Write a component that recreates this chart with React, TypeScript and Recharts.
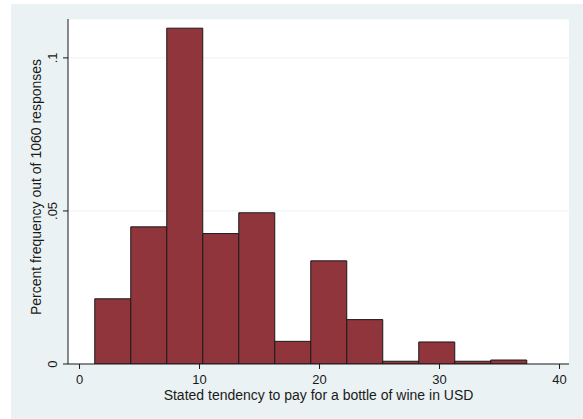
import React from 'react';
import { BarChart, Bar, XAxis, YAxis, CartesianGrid, Label, Rectangle } from 'recharts';

// histogram bins (bin width 3 USD), centre of each bin
const BIN_CENTERS = [2.77, 5.77, 8.77, 11.77, 14.77, 17.77, 20.77, 23.77, 26.77, 29.77, 32.77, 35.77];
// share of the 1060 responses in each bin
const SHARES = [0.0213, 0.0448, 0.1097, 0.0426, 0.0494, 0.0074, 0.0337, 0.0145, 0.0009, 0.0072, 0.0009, 0.0013];

const X_TICKS = [0, 10, 20, 30, 40];
const Y_TICKS = [0, 0.05, 0.1];
const Y_TICK_LABELS = ['0', '.05', '.1'];

const BIN_WIDTH = 3;
const X_MIN = -0.96;
const X_MAX = 40.79;
const Y_MAX = 0.1127;

const W = 583;
const H = 419;
const MARGIN = { top: 19, right: 14, left: 0, bottom: 0 };
const Y_AXIS_W = 68;
const X_AXIS_H = 55;

const FONT = '"Liberation Sans", Arial, Helvetica, sans-serif';
const BG = '#EAF2F3';
const FILL = '#90353B';
const INK = '#1a1a1a';

const data = BIN_CENTERS.map((c, i) => ({ center: c, share: SHARES[i] }));

const plotW = W - MARGIN.left - MARGIN.right - Y_AXIS_W;
const barPx = (BIN_WIDTH / (X_MAX - X_MIN)) * plotW;

// full-width histogram bar, centred on the bin centre the library computed
const BinShape = (props: any) => {
  const { x, y, width, height } = props;
  const cx = x + width / 2;
  return (
    <Rectangle
      x={cx - barPx / 2}
      y={y}
      width={barPx}
      height={height}
      fill={FILL}
      stroke={INK}
      strokeWidth={1}
    />
  );
};

const YTick = (props: any) => {
  const { x, y, payload } = props;
  const idx = Y_TICKS.indexOf(payload.value);
  return (
    <text
      x={x}
      y={y}
      transform={`rotate(-90, ${x}, ${y})`}
      textAnchor="middle"
      fontSize={13}
      fontFamily={FONT}
      fill={INK}
    >
      {idx >= 0 ? Y_TICK_LABELS[idx] : payload.value}
    </text>
  );
};

const YTitle = () => {
  const cx = 40.5;
  const cy = 187;
  return (
    <text
      x={cx}
      y={cy}
      transform={`rotate(-90, ${cx}, ${cy})`}
      textAnchor="middle"
      fontSize={14}
      fontFamily={FONT}
      fill={INK}
    >
      Percent frequency out of 1060 responses
    </text>
  );
};

export default function App() {
  return (
    <div style={{ position: 'absolute', left: 0, top: 0, width: W, height: H, background: '#fff', overflow: 'hidden' }}>
      <div style={{ position: 'absolute', left: 11, top: 4, right: 0, bottom: 0, background: BG }} />
      <div style={{ position: 'absolute', left: 0, top: 0 }}>
        <BarChart width={W} height={H} data={data} margin={MARGIN} barCategoryGap={0} barGap={0}>
          <CartesianGrid vertical={false} stroke={BG} strokeWidth={1} fill="#fff" />
          <XAxis
            dataKey="center"
            type="number"
            domain={[X_MIN, X_MAX]}
            allowDataOverflow
            ticks={X_TICKS}
            height={X_AXIS_H}
            tickSize={5}
            tickMargin={6}
            axisLine={{ stroke: INK }}
            tickLine={{ stroke: INK }}
            tick={{ fontSize: 13, fontFamily: FONT, fill: INK }}
          >
            <Label
              value="Stated tendency to pay for a bottle of wine in USD"
              position="insideBottom"
              offset={19}
              style={{ fontSize: 14, fontFamily: FONT, fill: INK }}
            />
          </XAxis>
          <YAxis
            type="number"
            domain={[0, Y_MAX]}
            allowDataOverflow
            ticks={Y_TICKS}
            width={Y_AXIS_W}
            tickSize={5}
            tickMargin={6}
            axisLine={{ stroke: INK }}
            tickLine={{ stroke: INK }}
            tick={<YTick />}
          >
            <Label content={<YTitle />} />
          </YAxis>
          <Bar
            dataKey="share"
            fill={FILL}
            stroke={INK}
            strokeWidth={1}
            shape={<BinShape />}
            isAnimationActive={false}
          />
        </BarChart>
      </div>
    </div>
  );
}
